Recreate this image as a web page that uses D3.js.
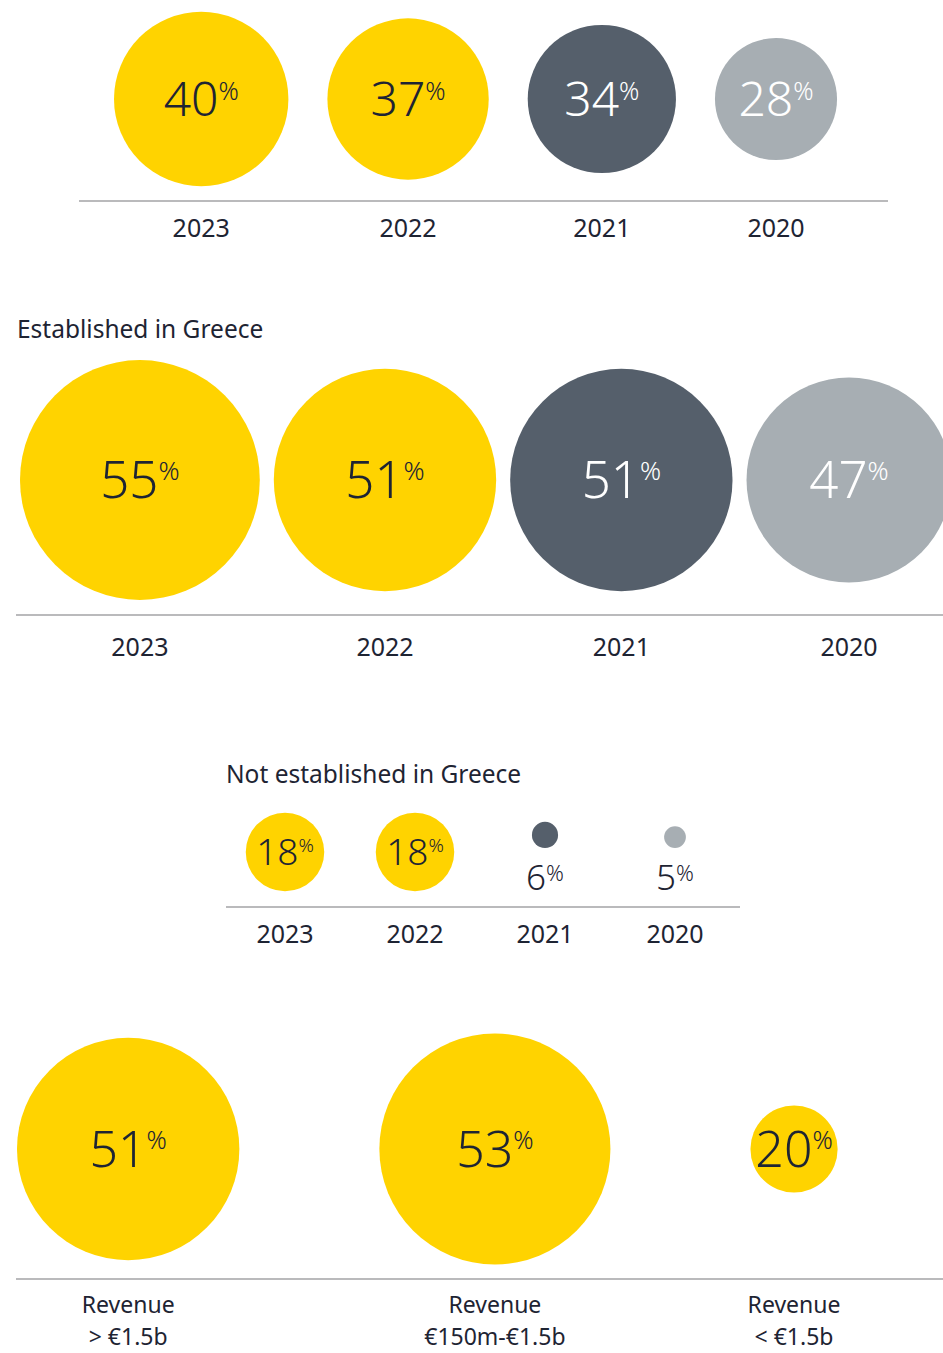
<!DOCTYPE html>
<html>
<head>
<meta charset="utf-8">
<script src="https://cdn.jsdelivr.net/npm/d3@7/dist/d3.min.js"></script>
<style>
  html, body { margin: 0; padding: 0; background: #ffffff; }
  svg { display: block; }
  text { font-family: "Noto Sans", "Open Sans", sans-serif; }
</style>
</head>
<body>
<svg id="chart" width="943" height="1353"></svg>
<script>
// ---- data ----
const years = ["2023", "2022", "2021", "2020"];
const allCompanies = [40, 37, 34, 28];
const establishedInGreece = [55, 51, 51, 47];
const notEstablishedInGreece = [18, 18, 6, 5];
const revenueBands = ["> €1.5b", "€150m-€1.5b", "< €1.5b"];
const revenueShares = [51, 53, 20];
const establishedTitle = "Established in Greece";
const notEstablishedTitle = "Not established in Greece";
const revenuePrefix = "Revenue";

// ---- styles ----
const YELLOW = "#FFD300";
const DARK = "#555F6B";
const GREY = "#A7AEB3";
const INK = "#1E2433";
const RULE = "#A3A3A6";
const CAP = 0.714; // cap height of the font, in em

const svg = d3.select("#chart");

// Circle radius grows linearly with the share
const r = d3.scaleLinear().domain([0, 100]).range([0, 218]);
const yearFill = d3.scaleOrdinal().domain(years).range([YELLOW, YELLOW, DARK, GREY]);
const yearInk = d3.scaleOrdinal().domain(years).range([INK, INK, "#ffffff", "#ffffff"]);

// Places circles side by side, each separated by a fixed gap
function packed(values, leftEdge, gap) {
  const xs = [];
  let edge = leftEdge;
  values.forEach(v => {
    xs.push(edge + r(v));
    edge += 2 * r(v) + gap;
  });
  return xs;
}

// Value label with a raised, smaller "%" sign top-aligned to the digits
function pctText(sel, numSize, pctSize) {
  sel.attr("text-anchor", "middle")
    .attr("font-size", numSize)
    .attr("font-weight", 300);
  sel.each(function(d) {
    const t = d3.select(this);
    t.append("tspan").text(d.value);
    t.append("tspan")
      .attr("font-size", pctSize)
      .attr("dy", -(CAP * numSize - CAP * pctSize))
      .text("%");
  });
}

function rule(y, x0, x1) {
  svg.append("line")
    .attr("x1", x0).attr("x2", x1)
    .attr("y1", y).attr("y2", y)
    .attr("stroke", RULE).attr("stroke-width", 1.5);
}

function title(text, x, y) {
  svg.append("text")
    .attr("x", x).attr("y", y)
    .attr("font-size", 24.5)
    .attr("fill", INK)
    .text(text);
}

// Year-over-year bubble row
function bubbleRow({ values, xs, cy, ruleY, ruleX, labelY, numSize, pctSize }) {
  const data = values.map((v, i) => ({ value: v, year: years[i], x: xs[i] }));
  const g = svg.append("g");
  g.selectAll("circle").data(data).join("circle")
    .attr("cx", d => d.x).attr("cy", cy)
    .attr("r", d => r(d.value))
    .attr("fill", d => yearFill(d.year));
  g.selectAll("text.val").data(data).join("text")
    .attr("class", "val")
    .attr("x", d => d.x)
    .attr("y", cy + CAP * numSize / 2)
    .attr("fill", d => yearInk(d.year))
    .call(pctText, numSize, pctSize);
  rule(ruleY, ruleX[0], ruleX[1]);
  g.selectAll("text.year").data(data).join("text")
    .attr("class", "year")
    .attr("x", d => d.x).attr("y", labelY)
    .attr("text-anchor", "middle")
    .attr("font-size", 25)
    .attr("fill", INK)
    .text(d => d.year);
}

// ---- all companies ----
bubbleRow({
  values: allCompanies,
  xs: packed(allCompanies, 114, 39),
  cy: 99, ruleY: 201, ruleX: [79, 888], labelY: 237,
  numSize: 48, pctSize: 25
});

// ---- established in Greece ----
title(establishedTitle, 17, 338);
bubbleRow({
  values: establishedInGreece,
  xs: packed(establishedInGreece, 20, 14),
  cy: 480, ruleY: 615, ruleX: [16, 943], labelY: 656,
  numSize: 51, pctSize: 26
});

// ---- not established in Greece ----
title(notEstablishedTitle, 226, 783);
{
  const x = d3.scalePoint().domain(years).range([285, 675]);
  const data = notEstablishedInGreece.map((v, i) => ({ value: v, year: years[i] }));
  const small = d => r(d.value) < 25;
  const g = svg.append("g");
  g.selectAll("circle").data(data).join("circle")
    .attr("cx", d => x(d.year))
    .attr("cy", d => small(d) ? 848 - r(d.value) : 852)
    .attr("r", d => r(d.value))
    .attr("fill", d => yearFill(d.year));
  const big = data.filter(d => !small(d));
  const tiny = data.filter(small);
  g.selectAll("text.val").data(big).join("text")
    .attr("class", "val")
    .attr("x", d => x(d.year))
    .attr("y", 852 + CAP * 37 / 2)
    .attr("fill", d => yearInk(d.year))
    .call(pctText, 37, 19);
  g.selectAll("text.under").data(tiny).join("text")
    .attr("class", "under")
    .attr("x", d => x(d.year))
    .attr("y", 890)
    .attr("fill", INK)
    .call(pctText, 35, 22);
  rule(907, 226, 740);
  g.selectAll("text.year").data(data).join("text")
    .attr("class", "year")
    .attr("x", d => x(d.year)).attr("y", 943)
    .attr("text-anchor", "middle")
    .attr("font-size", 25)
    .attr("fill", INK)
    .text(d => d.year);
}

// ---- by revenue ----
{
  const xs = packed(revenueShares, 17, 140);
  const data = revenueShares.map((v, i) => ({ value: v, band: revenueBands[i], x: xs[i] }));
  const cy = 1149;
  const g = svg.append("g");
  g.selectAll("circle").data(data).join("circle")
    .attr("cx", d => d.x).attr("cy", cy)
    .attr("r", d => r(d.value))
    .attr("fill", YELLOW);
  g.selectAll("text.val").data(data).join("text")
    .attr("class", "val")
    .attr("x", d => d.x)
    .attr("y", cy + CAP * 50 / 2)
    .attr("fill", INK)
    .call(pctText, 50, 25);
  rule(1279, 16, 943);
  // two-line category label: prefix above, revenue band below
  g.selectAll("text.prefix").data(data).join("text")
    .attr("class", "prefix")
    .attr("x", d => d.x).attr("y", 1313)
    .attr("text-anchor", "middle")
    .attr("font-size", 23)
    .attr("fill", INK)
    .text(revenuePrefix);
  g.selectAll("text.band").data(data).join("text")
    .attr("class", "band")
    .attr("x", d => d.x).attr("y", 1345)
    .attr("text-anchor", "middle")
    .attr("font-size", 23)
    .attr("fill", INK)
    .text(d => d.band);
}
</script>
</body>
</html>
